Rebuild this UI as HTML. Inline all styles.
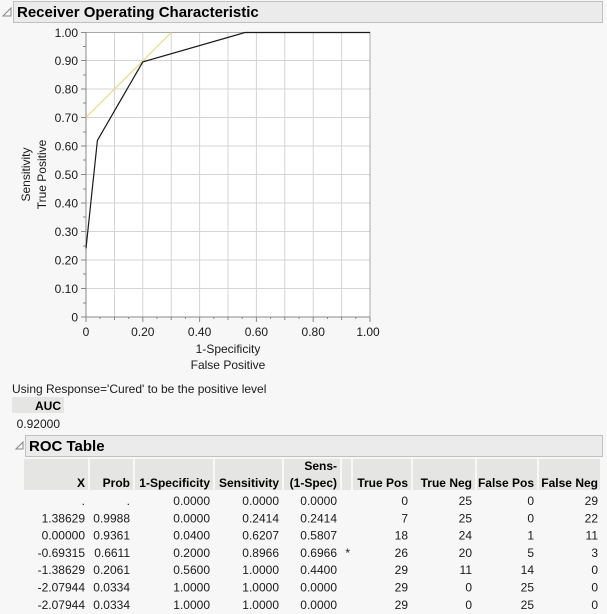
<!DOCTYPE html>
<html><head><meta charset="utf-8"><style>
html,body{margin:0;padding:0;background:#f7f7f7;}
svg{display:block;font-family:"Liberation Sans",sans-serif;}
</style></head><body>
<svg width="607" height="614" viewBox="0 0 607 614" xmlns="http://www.w3.org/2000/svg">
<rect width="607" height="614" fill="#f7f7f7"/>
<!-- header -->
<path d="M3 16 L11 8 L11 16 Z" fill="none" stroke="#888" stroke-width="1"/>
<rect x="13.5" y="1.5" width="589" height="21" fill="#ebebeb" stroke="#c0c0c0"/>
<text x="17" y="17" font-size="15" font-weight="bold" fill="#000">Receiver Operating Characteristic</text>
<!-- plot -->
<rect x="86" y="32.5" width="284" height="284.5" fill="#fff"/>
<g stroke="#d4d4d4" stroke-width="1">
<line x1="114.5" y1="32" x2="114.5" y2="317"/><line x1="142.8" y1="32" x2="142.8" y2="317"/>
<line x1="171.2" y1="32" x2="171.2" y2="317"/><line x1="199.6" y1="32" x2="199.6" y2="317"/>
<line x1="228" y1="32" x2="228" y2="317"/><line x1="256.4" y1="32" x2="256.4" y2="317"/>
<line x1="284.8" y1="32" x2="284.8" y2="317"/><line x1="313.2" y1="32" x2="313.2" y2="317"/>
<line x1="341.6" y1="32" x2="341.6" y2="317"/>
<line x1="86" y1="60.5" x2="370" y2="60.5"/><line x1="86" y1="89" x2="370" y2="89"/>
<line x1="86" y1="117.5" x2="370" y2="117.5"/><line x1="86" y1="146" x2="370" y2="146"/>
<line x1="86" y1="174.5" x2="370" y2="174.5"/><line x1="86" y1="203" x2="370" y2="203"/>
<line x1="86" y1="231.5" x2="370" y2="231.5"/><line x1="86" y1="260" x2="370" y2="260"/>
<line x1="86" y1="288.5" x2="370" y2="288.5"/>
</g>
<rect x="86" y="32.5" width="284" height="284.5" fill="none" stroke="#a8a8a8"/>
<!-- ticks -->
<g stroke="#888" stroke-width="1">
<line x1="86" y1="32" x2="86" y2="322"/><line x1="81" y1="317" x2="370" y2="317"/>
<line x1="81" y1="32.5" x2="86" y2="32.5"/><line x1="81" y1="60.5" x2="86" y2="60.5"/><line x1="81" y1="89" x2="86" y2="89"/><line x1="81" y1="117.5" x2="86" y2="117.5"/><line x1="81" y1="146" x2="86" y2="146"/><line x1="81" y1="174.5" x2="86" y2="174.5"/><line x1="81" y1="203" x2="86" y2="203"/><line x1="81" y1="231.5" x2="86" y2="231.5"/><line x1="81" y1="260" x2="86" y2="260"/><line x1="81" y1="288.5" x2="86" y2="288.5"/>
<line x1="83" y1="46.5" x2="86" y2="46.5"/><line x1="83" y1="75" x2="86" y2="75"/><line x1="83" y1="103" x2="86" y2="103"/><line x1="83" y1="132" x2="86" y2="132"/><line x1="83" y1="160" x2="86" y2="160"/><line x1="83" y1="189" x2="86" y2="189"/><line x1="83" y1="217" x2="86" y2="217"/><line x1="83" y1="246" x2="86" y2="246"/><line x1="83" y1="274" x2="86" y2="274"/><line x1="83" y1="303" x2="86" y2="303"/>
<line x1="142.8" y1="317" x2="142.8" y2="322"/><line x1="199.6" y1="317" x2="199.6" y2="322"/><line x1="256.4" y1="317" x2="256.4" y2="322"/><line x1="313.2" y1="317" x2="313.2" y2="322"/><line x1="370" y1="317" x2="370" y2="322"/>
<line x1="114.5" y1="317" x2="114.5" y2="320"/><line x1="171.2" y1="317" x2="171.2" y2="320"/><line x1="228" y1="317" x2="228" y2="320"/><line x1="284.8" y1="317" x2="284.8" y2="320"/><line x1="341.6" y1="317" x2="341.6" y2="320"/>
<line x1="100" y1="317" x2="100" y2="319"/><line x1="128.7" y1="317" x2="128.7" y2="319"/><line x1="157" y1="317" x2="157" y2="319"/><line x1="185.4" y1="317" x2="185.4" y2="319"/><line x1="213.8" y1="317" x2="213.8" y2="319"/><line x1="242.2" y1="317" x2="242.2" y2="319"/><line x1="270.6" y1="317" x2="270.6" y2="319"/><line x1="299" y1="317" x2="299" y2="319"/><line x1="327.4" y1="317" x2="327.4" y2="319"/><line x1="355.8" y1="317" x2="355.8" y2="319"/>
</g>
<g font-size="12" fill="#1a1a1a" text-anchor="end">
<text x="78" y="37">1.00</text><text x="78" y="65">0.90</text><text x="78" y="93.5">0.80</text><text x="78" y="122">0.70</text><text x="78" y="150.5">0.60</text><text x="78" y="179">0.50</text><text x="78" y="207.5">0.40</text><text x="78" y="236">0.30</text><text x="78" y="264.5">0.20</text><text x="78" y="293">0.10</text><text x="78" y="321.5">0</text>
</g>
<g font-size="12" fill="#1a1a1a" text-anchor="middle">
<text x="86" y="336">0</text><text x="142.8" y="336">0.20</text><text x="199.6" y="336">0.40</text><text x="256.4" y="336">0.60</text><text x="313.2" y="336">0.80</text><text x="368" y="336">1.00</text>
<text x="228" y="353">1-Specificity</text><text x="228" y="369">False Positive</text>
<text transform="translate(30,174.5) rotate(-90)">Sensitivity</text>
<text transform="translate(46,174.5) rotate(-90)">True Positive</text>
</g>
<line x1="86" y1="117.5" x2="171.2" y2="32.5" stroke="#e6dc8a" stroke-width="1.2"/>
<polyline points="86,248.3 97.4,140.4 142.8,61.9 245,32.5 370,32.5" fill="none" stroke="#1a1a1a" stroke-width="1.2"/>
<!-- AUC -->
<text x="12" y="393" font-size="12" fill="#1a1a1a">Using Response='Cured' to be the positive level</text>
<rect x="12" y="397" width="52" height="16" fill="#e5e5e3"/>
<text x="61" y="410" font-size="12" font-weight="bold" text-anchor="end">AUC</text>
<text x="60" y="428" font-size="12" text-anchor="end" fill="#1a1a1a">0.92000</text>
<!-- ROC table header -->
<path d="M16 449 L23 442 L23 449 Z" fill="none" stroke="#888"/>
<rect x="25.5" y="435.5" width="577" height="21" fill="#ebebeb" stroke="#c0c0c0"/>
<text x="29" y="451" font-size="15" font-weight="bold">ROC Table</text>
<rect x="24" y="459" width="576" height="31" fill="#e5e5e3"/>
<g stroke="#fff" stroke-width="1.5">
<line x1="89" y1="459" x2="89" y2="490"/><line x1="134" y1="459" x2="134" y2="490"/><line x1="214" y1="459" x2="214" y2="490"/><line x1="283" y1="459" x2="283" y2="490"/><line x1="341" y1="459" x2="341" y2="490"/><line x1="352" y1="459" x2="352" y2="490"/><line x1="412" y1="459" x2="412" y2="490"/><line x1="476" y1="459" x2="476" y2="490"/><line x1="538" y1="459" x2="538" y2="490"/>
</g>
<g font-size="12" font-weight="bold" text-anchor="end" fill="#000">
<text x="85" y="487">X</text><text x="130" y="487">Prob</text><text x="210" y="487">1-Specificity</text><text x="279" y="487">Sensitivity</text><text x="337" y="470">Sens-</text><text x="337" y="487">(1-Spec)</text><text x="408" y="487">True Pos</text><text x="472" y="487">True Neg</text><text x="534" y="487">False Pos</text><text x="598" y="487">False Neg</text>
</g>
<g font-size="12" text-anchor="end" fill="#1a1a1a">
<g transform="translate(0,505)"><text x="85">.</text><text x="130">.</text><text x="210">0.0000</text><text x="279">0.0000</text><text x="337">0.0000</text><text x="408">0</text><text x="472">25</text><text x="534">0</text><text x="598">29</text></g>
<g transform="translate(0,522.3)"><text x="85">1.38629</text><text x="130">0.9988</text><text x="210">0.0000</text><text x="279">0.2414</text><text x="337">0.2414</text><text x="408">7</text><text x="472">25</text><text x="534">0</text><text x="598">22</text></g>
<g transform="translate(0,539.6)"><text x="85">0.00000</text><text x="130">0.9361</text><text x="210">0.0400</text><text x="279">0.6207</text><text x="337">0.5807</text><text x="408">18</text><text x="472">24</text><text x="534">1</text><text x="598">11</text></g>
<g transform="translate(0,556.9)"><text x="85">-0.69315</text><text x="130">0.6611</text><text x="210">0.2000</text><text x="279">0.8966</text><text x="337">0.6966</text><text x="350">*</text><text x="408">26</text><text x="472">20</text><text x="534">5</text><text x="598">3</text></g>
<g transform="translate(0,574.2)"><text x="85">-1.38629</text><text x="130">0.2061</text><text x="210">0.5600</text><text x="279">1.0000</text><text x="337">0.4400</text><text x="408">29</text><text x="472">11</text><text x="534">14</text><text x="598">0</text></g>
<g transform="translate(0,591.5)"><text x="85">-2.07944</text><text x="130">0.0334</text><text x="210">1.0000</text><text x="279">1.0000</text><text x="337">0.0000</text><text x="408">29</text><text x="472">0</text><text x="534">25</text><text x="598">0</text></g>
<g transform="translate(0,608.8)"><text x="85">-2.07944</text><text x="130">0.0334</text><text x="210">1.0000</text><text x="279">1.0000</text><text x="337">0.0000</text><text x="408">29</text><text x="472">0</text><text x="534">25</text><text x="598">0</text></g>
</g>
</svg>
</body></html>
